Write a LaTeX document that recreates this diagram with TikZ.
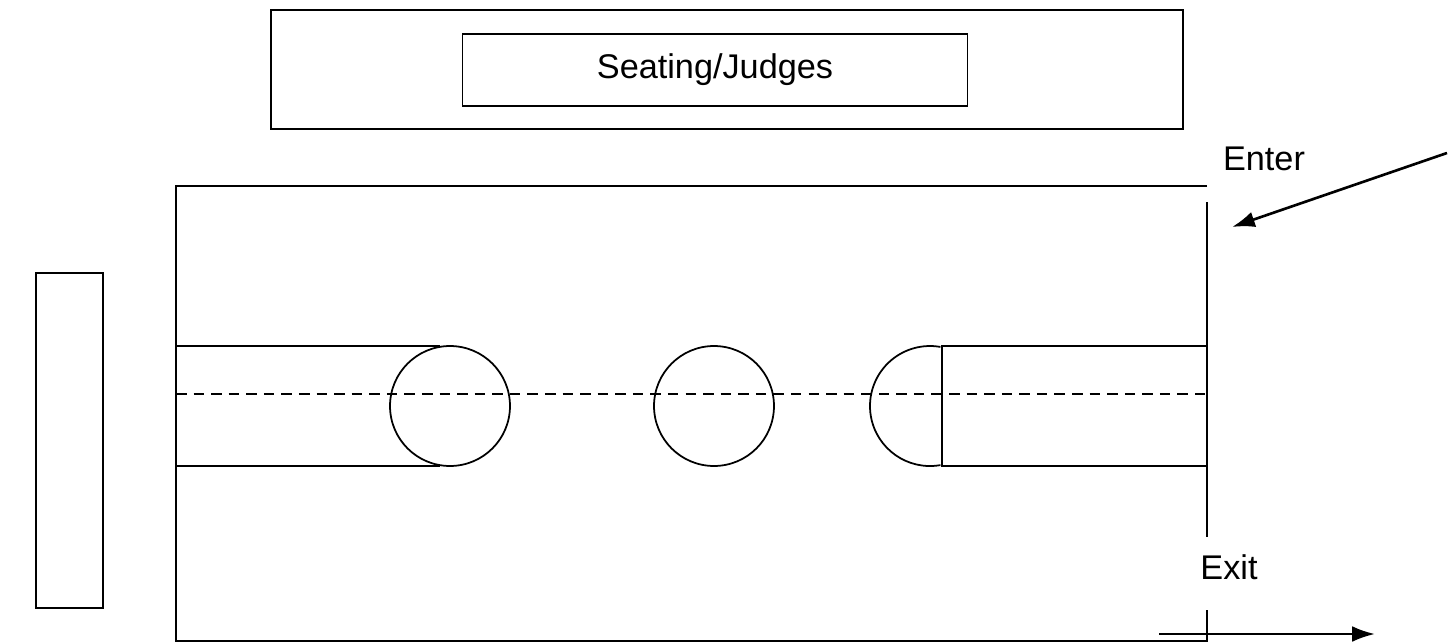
\documentclass[tikz,border=0pt]{standalone}
\usepackage{fontspec}
\setmainfont{Liberation Sans}
\usetikzlibrary{arrows.meta}
\begin{document}
\begin{tikzpicture}[x=0.02cm, y=-0.02cm, line width=1pt,
    >={Latex[length=13pt,width=9pt]},
    lbl/.style={font=\fontsize{19.5}{23}\selectfont, inner sep=0pt}]
    \useasboundingbox (0,0) rectangle (1455,643);

    % Tribuene mit Richtertisch
    \draw (271,10) rectangle (1183,129);
    \node[draw, minimum width=10.1cm, minimum height=1.44cm, lbl] (judges) at (715,70) {Seating/Judges};

    % Seitliches Feld links
    \draw (36,273) rectangle (103,608);

    % Arena mit Ein- und Ausgang
    \draw (1207,186) -- (176,186) -- (176,641) -- (1207,641) -- (1207,610);
    \draw (1207,202) -- (1207,537);

    % Bahnen und Kreise
    \draw (176,346) -- (440,346);
    \draw (176,466) -- (440,466);
    \node[draw, circle, minimum size=2.4cm, inner sep=0pt] (c1) at (450,406) {};
    \node[draw, circle, minimum size=2.4cm, inner sep=0pt] (c2) at (714,406) {};
    \draw (940.4,465.1) arc[start angle=80, end angle=280, radius=60];
    \draw (1207,346) -- (942,346) -- (942,466) -- (1207,466);
    \draw[dashed, line width=0.9pt, dash pattern=on 6pt off 4pt] (176,394) -- (1205,394);

    % Ein- und Ausgang
    \node[lbl] (enter) at (1264,159) {Enter};
    \node[lbl] (exit) at (1229,567) {Exit};
    \coordinate (inA) at (1447,153);
    \coordinate (inB) at (1232,227);
    \coordinate (outA) at (1159,634);
    \coordinate (outB) at (1375,634);
    \draw[->, line width=1.5pt] (inA) -- (inB);
    \draw[->, line width=1.5pt] (outA) -- (outB);
\end{tikzpicture}
\end{document}
